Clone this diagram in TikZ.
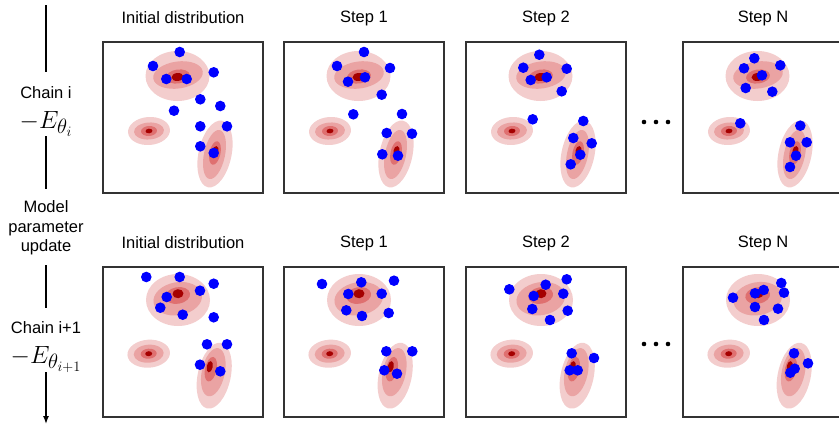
\documentclass[tikz,border=0pt]{standalone}
\usepackage[no-math]{fontspec}
\setmainfont{Liberation Sans}
\usetikzlibrary{arrows.meta}

\definecolor{lvlA}{RGB}{243,205,205}
\definecolor{lvlB}{RGB}{234,163,163}
\definecolor{lvlC}{RGB}{223,112,112}
\definecolor{lvlD}{RGB}{165,0,0}
\definecolor{sampleblue}{RGB}{0,0,255}

% one filled contour level: colour, centre x, centre y, x radius, y radius, tilt
\newcommand\level[6]{\fill[#1, rotate around={#6:(#2,#3)}] (#2,#3) ellipse[x radius=#4pt, y radius=#5pt];}
% one sample point
\newcommand\smp[2]{\fill[sampleblue] (#1,#2) circle[radius=5.3pt];}

% energy landscape of chain i (panel-local pixels)
\newcommand\densityA{%
  \level{lvlA}{74.5}{34}{32}{25}{0}
  \level{lvlB}{75}{33}{25}{13.5}{8}
  \level{lvlC}{75}{34.5}{12}{7}{8}
  \level{lvlD}{74.5}{35}{6}{4}{5}
  \level{lvlA}{46}{89}{21}{14}{4}
  \level{lvlB}{46}{89}{15}{8.5}{4}
  \level{lvlC}{46}{89}{8}{5}{4}
  \level{lvlD}{46}{89}{3.5}{2.3}{4}
  \level{lvlA}{112}{112}{16.5}{34}{-12}
  \level{lvlB}{111.5}{112.5}{10.5}{25}{-12}
  \level{lvlC}{112}{111}{5.5}{12}{-12}
  \level{lvlD}{112.5}{109}{3}{5}{-12}}

% energy landscape of chain i+1 (panel-local pixels)
\newcommand\densityB{%
  \level{lvlA}{75}{33}{32}{26}{0}
  \level{lvlB}{74.7}{31.7}{24.5}{16.5}{10}
  \level{lvlC}{74.7}{28.5}{12.5}{8.3}{10}
  \level{lvlD}{75}{26.7}{5.5}{4.5}{5}
  \level{lvlA}{45.7}{86.7}{21.3}{14}{4}
  \level{lvlB}{45.7}{86.7}{15}{9}{4}
  \level{lvlC}{45.7}{86.7}{8}{5}{4}
  \level{lvlD}{45.7}{86.7}{3.5}{2.5}{4}
  \level{lvlA}{111.2}{108.7}{16.5}{33.5}{-12}
  \level{lvlB}{110.3}{105.2}{11.5}{24.5}{-12}
  \level{lvlC}{107.8}{102.2}{5.8}{12.5}{-12}
  \level{lvlD}{106.7}{99.7}{3}{5.7}{-12}}

\begin{document}
\begin{tikzpicture}[x=1pt,y=-1pt,
  font=\fontsize{16.5}{19.5}\selectfont,
  frame/.style={draw=black!80, line width=1.2pt, inner sep=0pt, outer sep=0pt,
                minimum width=160pt, anchor=north west},
  rowA/.style={frame, minimum height=151pt},
  rowB/.style={frame, minimum height=150pt},
  heading/.style={inner sep=0pt},
  energy/.style={inner sep=0pt, anchor=base, font=\fontsize{30}{34}\selectfont},
  chainline/.style={line width=1.4pt},
  more/.style={fill=black}]

\useasboundingbox (0,0) rectangle (839,426);

% ---------------- chain i ----------------
\begin{scope}[shift={(103,42)}]
  \densityA
  \smp{76.7}{10}\smp{50}{24}\smp{110.7}{30.3}\smp{63.3}{37}\smp{83.7}{37}
  \smp{97.3}{57.3}\smp{117.3}{64}\smp{71}{68.7}\smp{97.3}{84.3}\smp{124}{84.3}
  \smp{97.3}{104.3}\smp{110.7}{111}
\end{scope}
\begin{scope}[shift={(284,42)}]
  \densityA
  \smp{80}{10}\smp{53}{24}\smp{106}{26}\smp{64}{39.7}\smp{81}{35.3}
  \smp{97.7}{52.7}\smp{69.3}{72.3}\smp{118}{72}\smp{102.7}{91}\smp{128}{91.7}
  \smp{98.3}{112.3}\smp{114}{113.7}
\end{scope}
\begin{scope}[shift={(466,42)}]
  \densityA
  \smp{73.3}{12.7}\smp{57.3}{25.7}\smp{100.7}{26.7}\smp{64.7}{38}\smp{80.7}{35.3}
  \smp{95.7}{49.3}\smp{66.7}{77.3}\smp{117.3}{79}\smp{107.3}{96}\smp{125.7}{101.3}
  \smp{114.3}{112.7}\smp{104.7}{122.3}
\end{scope}
\begin{scope}[shift={(683,42)}]
  \densityA
  \smp{71.3}{16.3}\smp{61}{26.3}\smp{97.3}{23.3}\smp{79}{33.3}\smp{62.7}{46}
  \smp{89.3}{49.7}\smp{57.3}{81.3}\smp{117.3}{83.7}\smp{107}{100.3}\smp{123.7}{100.3}
  \smp{113}{113.7}\smp{107}{125}
\end{scope}

\node[rowA] (a1) at (103,42) {};
\node[rowA] (a2) at (284,42) {};
\node[rowA] (a3) at (466,42) {};
\node[rowA] (aN) at (683,42) {};

\node[heading] (ha1) at (183,18) {Initial distribution};
\node[heading] (ha2) at (364,18) {Step 1};
\node[heading] (ha3) at (546,18) {Step 2};
\node[heading] (haN) at (763,18) {Step N};

% ---------------- chain i+1 ----------------
\begin{scope}[shift={(103,267)}]
  \densityB
  \smp{43.3}{10}\smp{76.7}{10}\smp{110.7}{16.7}\smp{97}{23.7}\smp{63.7}{30}
  \smp{57.3}{40.7}\smp{79.7}{47.7}\smp{110.7}{50.3}\smp{104}{77.3}\smp{124}{77.3}
  \smp{97}{97.7}\smp{117.3}{104.3}
\end{scope}
\begin{scope}[shift={(284,267)}]
  \densityB
  \smp{38}{17}\smp{77.3}{15.3}\smp{110}{13.7}\smp{64.3}{27}\smp{97.7}{26.7}
  \smp{62.3}{43.3}\smp{78}{49}\smp{104.7}{46}\smp{102.3}{84.3}\smp{128.3}{84.3}
  \smp{100.3}{103.3}\smp{113}{106.7}
\end{scope}
\begin{scope}[shift={(466,267)}]
  \densityB
  \smp{43.3}{22.3}\smp{100.7}{12.3}\smp{79.7}{17.7}\smp{67.7}{29}\smp{97.3}{26.7}
  \smp{66.3}{42}\smp{101.7}{43.7}\smp{84}{53}\smp{105.7}{86.3}\smp{128}{91}
  \smp{103.7}{103.3}\smp{111.7}{103.3}
\end{scope}
\begin{scope}[shift={(683,267)}]
  \densityB
  \smp{50}{30.7}\smp{98.3}{16}\smp{101}{25.7}\smp{80.7}{23}\smp{72}{26.3}
  \smp{72}{40}\smp{95}{41.7}\smp{81}{53}\smp{111}{86.3}\smp{125}{96.3}
  \smp{111.7}{101.7}\smp{107.3}{105.7}
\end{scope}

\node[rowB] (b1) at (103,267) {};
\node[rowB] (b2) at (284,267) {};
\node[rowB] (b3) at (466,267) {};
\node[rowB] (bN) at (683,267) {};

\node[heading] (hb1) at (183,243) {Initial distribution};
\node[heading] (hb2) at (364,243) {Step 1};
\node[heading] (hb3) at (546,243) {Step 2};
\node[heading] (hbN) at (763,243) {Step N};

% ellipsis between step 2 and step N
\foreach \dx in {644,656,668}{
  \fill[more] (\dx,122) circle[radius=2.3pt];
  \fill[more] (\dx,344) circle[radius=2.3pt];
}

% ---------------- time line on the left ----------------
\coordinate (l1a) at (46,5);
\coordinate (l1b) at (46,72);
\node[heading, anchor=base] (ci) at (46,98) {Chain i};
\node[energy] (ei) at (46,128) {$-E_{\theta_i}$};
\coordinate (l2a) at (46,136);
\coordinate (l2b) at (46,189);
\node[heading, align=center] (upd) at (46,228) {Model\\parameter\\update};
\coordinate (l3a) at (46,265);
\coordinate (l3b) at (46,308);
\node[heading, anchor=base] (cj) at (46,333) {Chain i+1};
\node[energy] (ej) at (46,363) {$-E_{\theta_{i+1}}$};
\coordinate (l4a) at (46,372);
\coordinate (l4b) at (46,424);

\draw[chainline] (l1a) -- (l1b);
\draw[chainline] (l2a) -- (l2b);
\draw[chainline] (l3a) -- (l3b);
\draw[chainline, -{Latex[length=8pt,width=6pt]}] (l4a) -- (l4b);

\end{tikzpicture}
\end{document}
